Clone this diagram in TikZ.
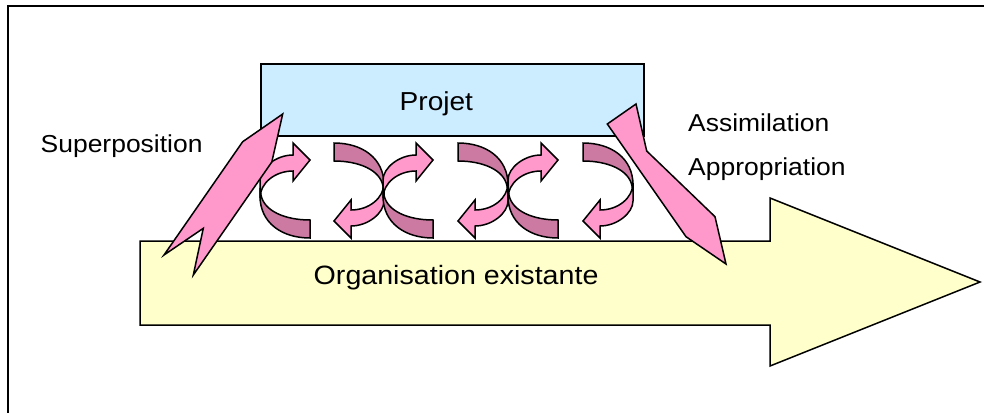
\documentclass[tikz,border=0pt]{standalone}
\usepackage{fontspec}
\newfontfamily\labfont[FakeStretch=1.08]{Liberation Sans}
\definecolor{projblue}{HTML}{CCECFF}
\definecolor{orgyellow}{HTML}{FFFFCC}
\definecolor{lightpink}{HTML}{FF99CC}
\definecolor{darkpink}{HTML}{CC7AA2}
\begin{document}
\begin{tikzpicture}[x=1pt,y=-1pt, line join=miter,
  outl/.style={draw=black, line width=1.5pt},
  bigpink/.style={outl, fill=lightpink},
  lab/.style={inner sep=0pt, anchor=base west, font=\labfont\fontsize{24.5}{28}\selectfont},
  labbig/.style={inner sep=0pt, anchor=base west, font=\labfont\fontsize{26.5}{30}\selectfont},
  curvR/.pic={
    \path[outl, fill=darkpink] (0,45) -- (0,53) .. controls (0,80) and (22,95) .. (50,95)
      -- (50,77) .. controls (25,77) and (4,68) .. (1,52) -- cycle;
    \path[outl, fill=lightpink] (0,55) -- (0,37) .. controls (0,25) and (16,12) .. (33,12)
      -- (33,0) -- (50,17) -- (33,38) -- (33,28) .. controls (15,28) and (0,40) .. (0,55) -- cycle;
  }]
\useasboundingbox (0,0) rectangle (984,412);
\fill[white] (0,0) rectangle (984,412);
% frame (only top and left edges visible)
\coordinate (fbl) at (7.5,420);
\coordinate (ftl) at (7.5,6.3);
\coordinate (ftr) at (992,6.3);
\draw[line width=2pt] (fbl) -- (ftl) -- (ftr);
% organisation arrow
\path[outl, fill=orgyellow] (140,241) -- (770,241) -- (770,198) -- (980,282)
  -- (770,366) -- (770,325) -- (140,325) -- cycle;
% project box
\node[outl, fill=projblue, minimum width=383pt, minimum height=72pt, inner sep=0pt,
  anchor=north west] (pbox) at (260,63) {};
% curved exchange arrows
\pic at (260,143) {curvR};
\pic[rotate=180] at (384,238) {curvR};
\pic at (383,143) {curvR};
\pic[rotate=180] at (508,238) {curvR};
\pic at (508,143) {curvR};
\pic[rotate=180] at (633,238) {curvR};
% big pink arrows
\path[bigpink] (282.7,114) -- (271.8,162) -- (193.3,275) -- (203.3,228.3)
  -- (164,255) -- (242.7,141.7) -- cycle;
\path[bigpink] (607.3,124) -- (636,104) -- (646.7,151) -- (715,216.7)
  -- (726,264) -- (686,236.7) -- cycle;
% labels
\node[lab] (sup) at (40.5,152) {Superposition};
\node[labbig, font=\labfont\fontsize{26}{30}\selectfont] (proj) at (399.5,110) {Projet};
\node[lab] (assim) at (688,131.5) {Assimilation};
\node[lab] (appr) at (688,175) {Appropriation};
\node[labbig] (org) at (313.5,284.3) {Organisation existante};
\end{tikzpicture}
\end{document}
